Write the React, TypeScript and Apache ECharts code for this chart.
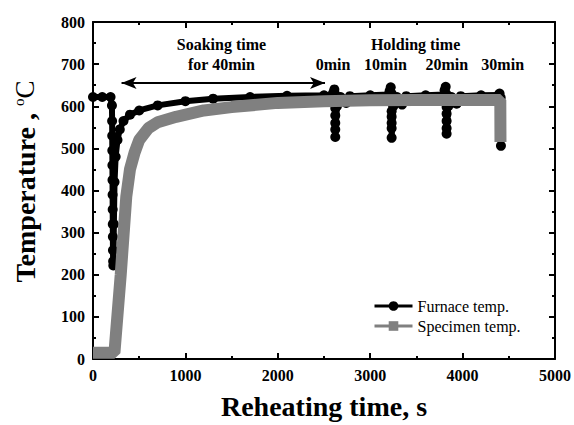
import React, { useEffect, useRef } from 'react';
import * as echarts from 'echarts';

const FONT = "'Times New Roman', 'Liberation Serif', serif";

// time (s), temperature (°C)
const furnaceTemp: [number, number][] = [
  [0, 622], [100, 622], [190, 622], [205, 602], [207, 565], [208, 530], [209, 495],
  [210, 460], [211, 425], [212, 390], [213, 355], [214, 320], [215, 290], [216, 258],
  [218, 232], [220, 222], [226, 320], [233, 420], [245, 480], [265, 520], [290, 545],
  [330, 565], [400, 580], [500, 590], [700, 602], [1000, 612], [1300, 618], [1700, 622],
  [2100, 625], [2500, 626], [2590, 627],
  [2600, 632], [2612, 640], [2622, 628], [2622, 595], [2622, 578], [2622, 560], [2622, 545],
  [2622, 527], [2640, 600], [2680, 622], [2740, 608], [2780, 624], [3000, 626], [3200, 628],
  [3210, 636], [3222, 645], [3232, 630], [3232, 588], [3232, 575], [3232, 560], [3232, 548],
  [3232, 525], [3250, 600], [3290, 622], [3345, 604], [3390, 624], [3600, 626], [3800, 628],
  [3805, 638], [3817, 646], [3827, 628], [3827, 598], [3827, 582], [3827, 565], [3827, 548],
  [3827, 535], [3845, 600], [3880, 622], [3935, 606], [3980, 624], [4200, 626], [4390, 627],
  [4400, 630], [4412, 620], [4415, 580], [4415, 545], [4415, 506],
];

const specimenTemp: [number, number][] = [
  [0, 15], [100, 15], [232, 15], [300, 200], [360, 385], [400, 450], [450, 490], [500, 520],
  [600, 548], [700, 562], [900, 575], [1200, 590], [1500, 598], [2000, 608], [2500, 612],
  [3000, 614], [3500, 615], [4000, 615], [4408, 615], [4410, 515],
];

const seriesNames = ['Furnace temp.', 'Specimen temp.'];

const annotationTexts: { t: number; y: number; text: string }[] = [
  { t: 1390, y: 746, text: 'Soaking time' },
  { t: 1390, y: 700, text: 'for 40min' },
  { t: 3491, y: 746, text: 'Holding time' },
  { t: 2597, y: 698, text: '0min' },
  { t: 3165, y: 698, text: '10min' },
  { t: 3829, y: 698, text: '20min' },
  { t: 4434, y: 698, text: '30min' },
];

const soakArrow: [number, number][] = [[309, 655], [2511, 655]];

export default function App() {
  const ref = useRef<HTMLDivElement>(null);
  useEffect(() => {
    if (!ref.current) return;
    const chart = echarts.init(ref.current, undefined, { renderer: 'svg' });
    const axisLine = { show: true, onZero: false, lineStyle: { color: '#000', width: 2 } };
    const tick = { show: true, inside: true, length: 6, lineStyle: { color: '#000', width: 2 } };
    const minor = { show: true, splitNumber: 2, length: 3, lineStyle: { color: '#000', width: 2 } };
    const label = {
      fontFamily: FONT, fontWeight: 'bold' as const, fontSize: 16, color: '#000', margin: 8,
      formatter: (v: number) => String(v),
    };
    chart.setOption({
      animation: false,
      grid: { left: 93, right: 17, top: 22, bottom: 60 },
      legend: {
        orient: 'vertical',
        left: 368,
        top: 293,
        itemWidth: 38,
        itemHeight: 12,
        itemGap: 4,
        textStyle: { fontFamily: FONT, fontSize: 16, color: '#000' },
        data: [
          { name: seriesNames[0], lineStyle: { width: 3 } },
          { name: seriesNames[1], lineStyle: { width: 3 } },
        ],
      },
      xAxis: [
        {
          type: 'value', min: 0, max: 5000, interval: 1000,
          axisLine, axisTick: tick, minorTick: minor, splitLine: { show: false },
          axisLabel: label,
          name: 'Reheating time, s', nameLocation: 'middle', nameGap: 33,
          nameTextStyle: { fontFamily: FONT, fontWeight: 'bold', fontSize: 28, color: '#000' },
        },
        {
          type: 'value', position: 'top', min: 0, max: 5000, interval: 1000,
          axisLine, axisTick: tick, minorTick: minor, splitLine: { show: false },
          axisLabel: { show: false },
        },
      ],
      yAxis: [
        {
          type: 'value', min: 0, max: 800, interval: 100,
          axisLine, axisTick: tick, minorTick: minor, splitLine: { show: false },
          axisLabel: label,
          name: '{b|Temperature , }{s|o}{r|C}', nameLocation: 'middle', nameGap: 54, nameRotate: 90,
          nameTextStyle: {
            padding: [0, 0, 0, 18],
            rich: {
              b: { fontFamily: FONT, fontWeight: 'bold', fontSize: 28, color: '#000' },
              s: { fontFamily: FONT, fontSize: 15, color: '#000', padding: [0, 0, 12, 0] },
              r: { fontFamily: FONT, fontSize: 27, color: '#000' },
            },
          },
        },
        {
          type: 'value', position: 'right', min: 0, max: 800, interval: 100,
          axisLine, axisTick: tick, minorTick: minor, splitLine: { show: false },
          axisLabel: { show: false },
        },
      ],
      series: [
        {
          name: seriesNames[0], type: 'line', data: furnaceTemp, z: 2,
          color: '#000',
          lineStyle: { color: '#000', width: 6 },
          itemStyle: { color: '#000' },
          symbol: 'circle', symbolSize: 10, showAllSymbol: true,
          markLine: {
            silent: true,
            symbol: ['arrow', 'arrow'], symbolSize: [9, 15],
            lineStyle: { color: '#000', width: 2, type: 'solid' },
            label: { show: false },
            data: [[{ coord: soakArrow[0] }, { coord: soakArrow[1] }]],
          },
          markPoint: {
            silent: true,
            symbol: 'circle', symbolSize: 0,
            itemStyle: { color: 'transparent' },
            label: {
              show: true, position: 'inside', formatter: '{b}',
              fontFamily: FONT, fontWeight: 'bold', fontSize: 16, color: '#000',
            },
            data: annotationTexts.map((a) => ({ name: a.text, coord: [a.t, a.y] })),
          },
        },
        {
          name: seriesNames[1], type: 'line', data: specimenTemp, z: 3,
          color: '#808080',
          lineStyle: { color: '#808080', width: 12 },
          itemStyle: { color: '#808080' },
          symbol: 'rect', symbolSize: 10, showSymbol: false,
        },
      ],
    });
    return () => chart.dispose();
  }, []);
  return <div ref={ref} style={{ width: 574, height: 425, position: 'absolute', left: 0, top: 0 }} />;
}
